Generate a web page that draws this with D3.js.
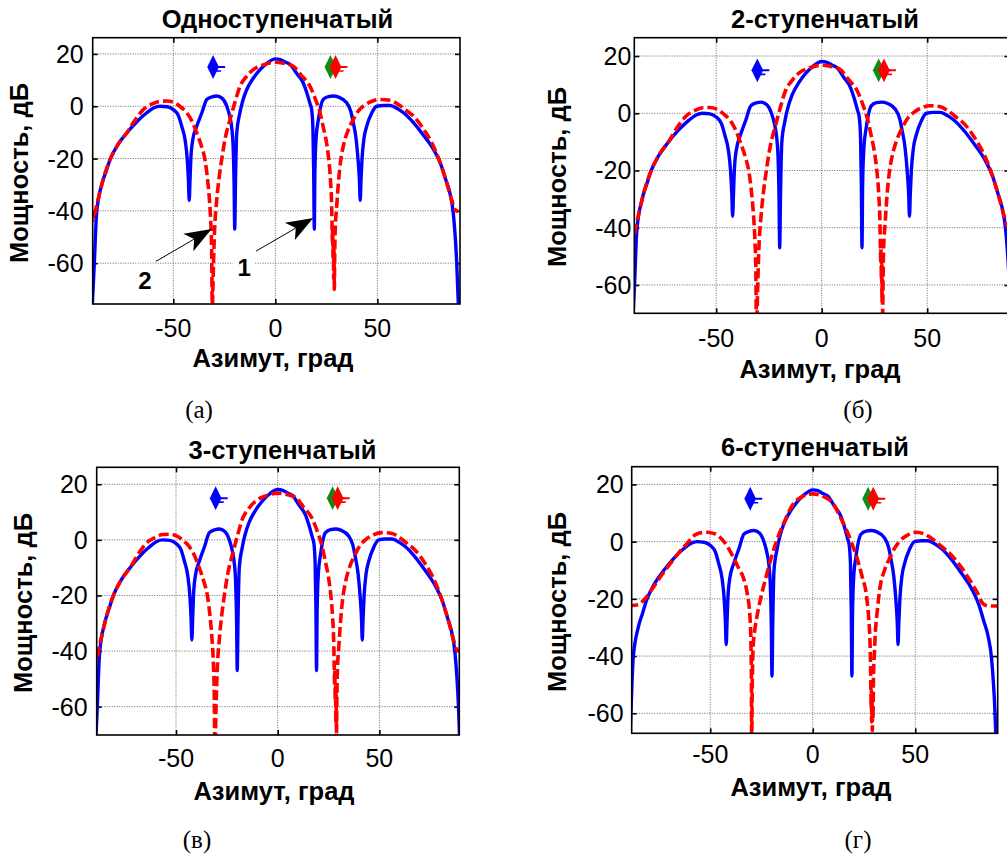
<!DOCTYPE html>
<html><head><meta charset="utf-8">
<script src="https://cdn.jsdelivr.net/npm/d3@7"></script>
<style>body{margin:0;background:#fff} svg{display:block}</style>
</head><body>
<script>
// ---- data ----
const azTicks = [-50, 0, 50]
const dbTicks = [20, 0, -20, -40, -60]
const titles = ['Одноступенчатый', '2-ступенчатый', '3-ступенчатый', '6-ступенчатый']
const captions = ['(а)', '(б)', '(в)', '(г)']

// curve 1 (blue, solid) — same in every panel
const blueAz = [-89.7,-88.7,-87.6,-85.1,-83,-81,-77,-72.8,-68,-63,-59.5,-56.5,-53,-50,-47.5,-45.9,-44.2,-43.2,-42.6,-42.2,
  -41.8,-41.4,-40.5,-38.5,-36,-33.6,-31,-28.7,-26,-23.8,-22.3,-21.4,-20.7,-20.2,-19.9,-19.5,-18.9,-17.5,-16,-14,
  -11,-7.5,-4,0,2.5,5,7.2,10.5,13.7,15.5,17,17.8,18.4,18.8,19.1,19.4,20,21.1,23.5,26,
  28.4,31,35,37,38.2,39.5,40.5,41.2,41.6,42,42.5,43.5,44.8,47,49.7,53,56.2,60,63,67.7,
  72,77.5,81,83.5,85.5,87.2,88.9,89.7]
const blueDb = [-76,-60,-41,-30,-25,-20.4,-14.5,-10.2,-6,-2.5,-0.6,0,-0.2,-1.3,-3.6,-7.6,-13,-20,-28,-36,
  -28,-20,-13,-7.6,-2.5,2.6,3.6,3.9,3,0,-4,-8,-15,-30,-47,-28,-10.2,-3,2,6.4,
  10.5,14,16.5,18.1,17.8,16.8,16,12.5,8.9,5,1,-1.3,-8,-25,-47,-25,-12,-5.1,2.6,3.7,
  3.9,3.5,1.3,-2,-6.3,-12,-20,-28,-36,-28,-20,-12,-7.6,-3,0,0.3,0.3,-1,-2.6,-6.3,
  -10.5,-16.5,-22,-28,-33,-40.8,-60,-76]

// curve 2 (red, dashed) — 1-, 2- and 3-step panels
const redAz = [-89.6,-89,-88.4,-86,-84,-81,-77,-72.8,-68.5,-64.7,-60,-56.5,-53,-50,-46.5,-43.4,-41,-38.5,-36.3,-34.5,
  -33.2,-32.3,-31.6,-31.2,-30.9,-30.3,-29.8,-28.7,-27.5,-26.3,-24.5,-22.2,-19.8,-17.3,-14,-10.8,-6,0,4,8.8,
  12.5,17,19.5,21.9,23.5,25,26,27,27.6,27.8,28,28.1,28.3,28.45,28.6,28.75,28.9,29.1,29.3,30.1,
  30.9,32,33.3,35.5,38.2,40.5,43.1,47,51.3,56.2,60,64,67.7,72,77.5,80.5,83.5,86.5,88,89.7]
const redDb = [-40,-43.5,-41,-33,-27,-20.4,-14.5,-10.2,-5,-1.3,1,1.9,2,1.5,-0.2,-2.5,-5.5,-10.2,-15,-20.4,
  -28,-35.7,-45,-55,-76,-60,-48,-35.7,-27,-20.4,-12,-5.1,1.5,7.6,11.5,14,15.8,16.8,16.4,15.3,
  12,7.6,3,-2.5,-8,-13.5,-19.1,-28,-38.2,-46,-52,-47,-58,-52,-66,-55,-70,-57,-48.4,-38,
  -29.3,-21,-15.3,-9.5,-5.1,-2,0,1.8,2.6,2.3,0.8,-1.5,-3.8,-8,-15.3,-21,-28,-36,-39.5,-40.2]

// curve 2 (red, dashed) — 6-step panel
const red6Az = [-90,-85,-82.6,-77.8,-73.5,-69.6,-65.5,-61.5,-56.6,-51.7,-48,-45.2,-41.8,-38.7,-36,-33.9,-32,-30.6,-30.1,-29.9,
  -29.8,-29.5,-29.1,-28.3,-27.3,-24.8,-22.4,-20,-17.6,-13.5,-9.5,-5,0,5,10,13.5,16.6,19,21.5,24,
  26.3,27.3,28,28.3,28.5,28.6,28.75,28.9,29.05,29.2,29.35,29.6,30,30.4,31.5,32.8,35,37.7,40,42.6,
  46,50.7,54,57.2,62,68.6,72.5,76.7,80,83.2,86,90]
const red6Db = [-22.4,-22,-20.6,-16,-11.5,-7.8,-4,-0.8,2.7,3.3,2.8,1.5,-1.5,-5.5,-9.5,-12.5,-18,-26.5,-37,-50,
  -70,-50,-37,-31,-26.5,-18,-11.3,-5,0.35,7.5,13.2,15.8,16.7,15.8,13.2,8.5,3.8,-0.5,-5.5,-12,
  -19.5,-27,-37,-48,-58,-52,-63,-55,-66,-58,-62,-48,-40,-33.5,-24,-16,-10,-5.5,-2.2,0.35,
  2.2,3.3,2.8,1.5,-1.2,-5.5,-9,-13.6,-17.5,-21.8,-22.5,-22.5]

// direction estimates shown as markers
const markerAz = [-30.5, 27, 29.5]
const markerDb = [15, 15, 15]
const markerColor = ['#0000ff', '#138a13', '#ff0000']

// annotation arrows (panel a)
const arrowLabels = ['2', '1']
const arrowFrom = [[-58.5, -59.3], [-9.5, -55.4]]
const arrowTo = [[-31.2, -46.9], [18.6, -42.7]]
const labelAt = [[-63.9, -66.7], [-15.3, -61.7]]

// ---- layout ----
const panels = [
  {x0: 92.7, x1: 460.0, y0: 37.7, y1: 304.0, xd: [-89.5, 90.5], yd: [-75.6, 26.2], red: 0,
   title: [277.5, 28], ylab: [28, 173], xlab: [273, 367], cap: [199, 418], tickGap: 9, xtBase: 336.5},
  {x0: 634.3, x1: 1009.5, y0: 37.7, y1: 313.3, xd: [-88.8, 89], yd: [-69.9, 26.4], red: 0,
   title: [825, 28], ylab: [566, 177], xlab: [820, 378], cap: [858, 418], tickGap: 3, xtBase: 346.5},
  {x0: 96.7, x1: 459.3, y0: 467.3, y1: 735.0, xd: [-89, 89.3], yd: [-70.2, 26.1], red: 0,
   title: [282.5, 459], ylab: [32, 603], xlab: [274, 800], cap: [197, 848], tickGap: 9, xtBase: 766.5},
  {x0: 631.7, x1: 997.7, y0: 466.7, y1: 733.3, xd: [-88.3, 90.2], yd: [-67, 26.2], red: 1,
   title: [815, 456], ylab: [566, 602], xlab: [811, 796], cap: [858, 848], tickGap: 8, xtBase: 763.3}
]
const reds = [[redAz, redDb], [red6Az, red6Db]]

const svg = d3.select('body').append('svg')
  .attr('width', 1007).attr('height', 858)
  .style('font-family', 'Liberation Sans, Arial, sans-serif')

const defs = svg.append('defs')

panels.forEach((p, i) => {
  let x = d3.scaleLinear().domain(p.xd).range([p.x0, p.x1])
  let y = d3.scaleLinear().domain(p.yd).range([p.y1, p.y0])
  let g = svg.append('g').attr('id', 'panel' + i)

  defs.append('clipPath').attr('id', 'clip' + i)
    .append('rect').attr('x', p.x0).attr('y', p.y0)
    .attr('width', p.x1 - p.x0).attr('height', p.y1 - p.y0)

  // grid
  g.append('g').selectAll('line').data(azTicks).join('line')
    .attr('x1', d => x(d)).attr('x2', d => x(d)).attr('y1', p.y0).attr('y2', p.y1)
    .attr('stroke', '#666').attr('stroke-dasharray', '1,1.5').attr('stroke-width', 1)
  g.append('g').selectAll('line').data(dbTicks).join('line')
    .attr('y1', d => y(d)).attr('y2', d => y(d)).attr('x1', p.x0).attr('x2', p.x1)
    .attr('stroke', '#666').attr('stroke-dasharray', '1,1.5').attr('stroke-width', 1)

  // axes (ticks inward on all sides)
  let ax = [
    [d3.axisBottom(x).tickValues(azTicks).tickSizeInner(-5).tickSizeOuter(0), p.y1],
    [d3.axisTop(x).tickValues(azTicks).tickSizeInner(-5).tickSizeOuter(0), p.y0],
  ]
  ax.forEach(([a, ty]) => {
    let s = g.append('g').attr('transform', `translate(0,${ty})`).call(a)
    s.select('.domain').remove()
    s.selectAll('line').attr('stroke', '#000').attr('stroke-width', 1.6)
    s.selectAll('text').remove()
  })
  let ay = [
    [d3.axisLeft(y).tickValues(dbTicks).tickSizeInner(-5).tickSizeOuter(0), p.x0],
    [d3.axisRight(y).tickValues(dbTicks).tickSizeInner(-5).tickSizeOuter(0), p.x1],
  ]
  ay.forEach(([a, tx]) => {
    let s = g.append('g').attr('transform', `translate(${tx},0)`).call(a)
    s.select('.domain').remove()
    s.selectAll('line').attr('stroke', '#000').attr('stroke-width', 1.6)
    s.selectAll('text').remove()
  })

  // tick labels
  g.append('g').selectAll('text').data(azTicks).join('text')
    .attr('x', d => x(d)).attr('y', p.xtBase).attr('text-anchor', 'middle')
    .attr('font-size', 25).text(d => d)
  g.append('g').selectAll('text').data(dbTicks).join('text')
    .attr('x', p.x0 - p.tickGap).attr('y', d => y(d)).attr('dy', '0.36em')
    .attr('text-anchor', 'end').attr('font-size', 25).text(d => d)

  // curves
  let plot = g.append('g').attr('clip-path', `url(#clip${i})`)
  let line = d3.line().x(d => x(d[0])).y(d => y(d[1])).curve(d3.curveMonotoneX)
  let blue = blueAz.map((a, k) => [a, blueDb[k]])
  let rr = reds[p.red]
  let red = rr[0].map((a, k) => [a, rr[1][k]])
  plot.append('path').datum(blue).attr('d', line)
    .attr('fill', 'none').attr('stroke', '#0000ff').attr('stroke-width', 3.4)
    .attr('stroke-linejoin', 'round')
  plot.append('path').datum(red).attr('d', line)
    .attr('fill', 'none').attr('stroke', '#ff0000').attr('stroke-width', 3.6)
    .attr('stroke-dasharray', '10,4').attr('stroke-linejoin', 'round')

  // markers (blob with a short tail to the right)
  let mk = plot.append('g').selectAll('g').data(markerAz.map((a, k) => k)).join('g')
    .attr('transform', k => `translate(${x(markerAz[k])},${y(markerDb[k])})`)
  mk.append('line').attr('x1', 0).attr('x2', 12).attr('y1', 0).attr('y2', 0)
    .attr('stroke', k => markerColor[k]).attr('stroke-width', 2)
  mk.append('line').attr('x1', 0).attr('x2', 8).attr('y1', 4).attr('y2', 4)
    .attr('stroke', k => markerColor[k]).attr('stroke-width', 1.6)
  mk.append('path').attr('d', d3.symbol(d3.symbolDiamond, 90))
    .attr('transform', 'scale(1.15,1.35)')
    .attr('fill', k => markerColor[k])

  // box
  g.append('rect').attr('x', p.x0).attr('y', p.y0)
    .attr('width', p.x1 - p.x0).attr('height', p.y1 - p.y0)
    .attr('fill', 'none').attr('stroke', '#000').attr('stroke-width', 1.6)

  // texts
  g.append('text').attr('x', p.title[0]).attr('y', p.title[1]).attr('text-anchor', 'middle')
    .attr('font-size', 25.5).attr('font-weight', 'bold').text(titles[i])
  g.append('text').attr('transform', `translate(${p.ylab[0]},${p.ylab[1]})rotate(-90)`)
    .attr('text-anchor', 'middle').attr('font-size', 25.5).attr('font-weight', 'bold')
    .text('Мощность, дБ')
  g.append('text').attr('x', p.xlab[0]).attr('y', p.xlab[1]).attr('text-anchor', 'middle')
    .attr('font-size', 25.5).attr('font-weight', 'bold').text('Азимут, град')
  svg.append('text').attr('x', p.cap[0]).attr('y', p.cap[1]).attr('text-anchor', 'middle')
    .attr('font-family', 'Liberation Serif, DejaVu Serif, serif').attr('font-size', 25)
    .text(captions[i])

  // annotations only in the first panel
  if (i === 0) {
    let an = g.append('g')
    arrowLabels.forEach((t, k) => {
      let lx = x(labelAt[k][0]), ly = y(labelAt[k][1])
      an.append('rect').attr('x', lx - 11).attr('y', ly - 17).attr('width', 22).attr('height', 34)
        .attr('fill', '#fff')
      an.append('text').attr('x', lx).attr('y', ly).attr('dy', '0.36em').attr('text-anchor', 'middle')
        .attr('font-size', 24).attr('font-weight', 'bold').text(t)
      let fx = x(arrowFrom[k][0]), fy = y(arrowFrom[k][1])
      let tx = x(arrowTo[k][0]), ty = y(arrowTo[k][1])
      let ang = Math.atan2(ty - fy, tx - fx)
      let L = 27, W = 10
      let bx = tx - L * Math.cos(ang), by = ty - L * Math.sin(ang)
      let nx = tx - 0.75 * L * Math.cos(ang), ny = ty - 0.75 * L * Math.sin(ang)
      an.append('line').attr('x1', fx).attr('y1', fy).attr('x2', nx).attr('y2', ny)
        .attr('stroke', '#000').attr('stroke-width', 1)
      let pts = [[tx, ty],
        [bx - W * Math.sin(ang), by + W * Math.cos(ang)],
        [nx, ny],
        [bx + W * Math.sin(ang), by - W * Math.cos(ang)]]
      an.append('path').attr('d', 'M' + pts.join('L') + 'Z').attr('fill', '#000')
    })
  }
})
</script>
</body></html>
